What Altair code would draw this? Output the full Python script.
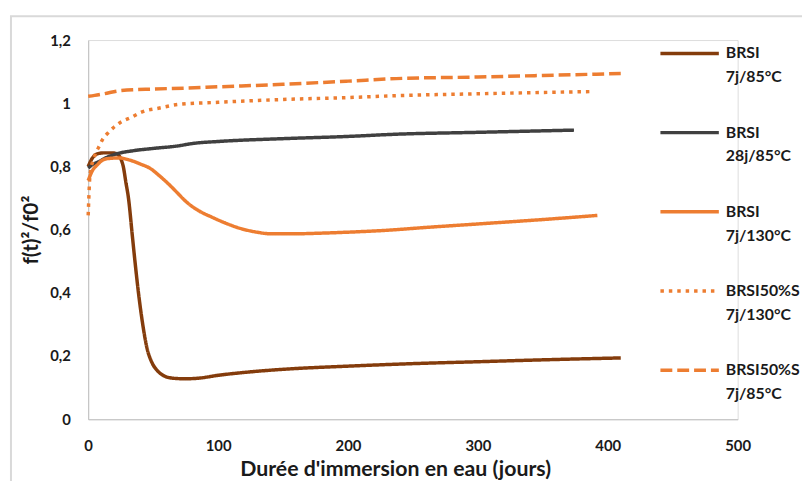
import altair as alt
import pandas as pd

SERIES = ["BRSI 7j/85°C", "BRSI 28j/85°C", "BRSI 7j/130°C",
          "BRSI50%S 7j/130°C", "BRSI50%S 7j/85°C"]
COLORS = ["#843C0C", "#404040", "#ED7D31", "#ED7D31", "#ED7D31"]
DASHES = [[1, 0], [1, 0], [1, 0], [3.5, 5], [12, 5]]

X_TICKS = [0, 100, 200, 300, 400, 500]
Y_TICKS = [0, 0.2, 0.4, 0.6, 0.8, 1.0, 1.2]

s1_days = [0, 3, 7, 12, 18, 22, 25, 27, 29, 31, 34, 36, 39, 42, 45, 49, 53, 58,
           65, 75, 85, 100, 125, 150, 200, 250, 300, 350, 410]
s1_vals = [0.80, 0.825, 0.84, 0.843, 0.843, 0.84, 0.825, 0.80, 0.75, 0.70, 0.58,
           0.50, 0.39, 0.30, 0.23, 0.18, 0.155, 0.138, 0.13, 0.128, 0.13, 0.139,
           0.15, 0.158, 0.168, 0.176, 0.182, 0.188, 0.194]

s2_days = [0, 3, 8, 15, 22, 35, 50, 69, 81, 100, 150, 200, 237, 300, 374]
s2_vals = [0.795, 0.805, 0.815, 0.83, 0.84, 0.85, 0.857, 0.865, 0.873, 0.879,
           0.888, 0.895, 0.902, 0.908, 0.915]

s3_days = [0, 3, 7, 12, 18, 24, 32, 40, 48, 55, 63, 69, 75, 85, 95, 105, 117,
           130, 140, 160, 180, 200, 230, 260, 300, 350, 392]
s3_vals = [0.755, 0.785, 0.805, 0.822, 0.826, 0.827, 0.82, 0.808, 0.793, 0.77,
           0.74, 0.715, 0.69, 0.66, 0.64, 0.622, 0.604, 0.592, 0.587,
           0.587, 0.589, 0.592, 0.598, 0.607, 0.618, 0.632, 0.645]

s4_days = [0, 0.5, 1, 2, 4, 6, 8, 11, 15, 20, 25, 33, 41, 55, 69, 100, 150, 200,
           237, 300, 388]
s4_vals = [0.645, 0.70, 0.75, 0.79, 0.82, 0.845, 0.86, 0.885, 0.905, 0.925, 0.94,
           0.955, 0.972, 0.985, 0.996, 1.003, 1.012, 1.018, 1.024, 1.03, 1.037]

s5_days = [0, 5, 12, 25, 50, 75, 100, 150, 200, 237, 300, 350, 410]
s5_vals = [1.022, 1.025, 1.03, 1.04, 1.045, 1.048, 1.052, 1.06, 1.07, 1.078,
           1.083, 1.088, 1.094]

rows = []
for name, days, vals in zip(SERIES, [s1_days, s2_days, s3_days, s4_days, s5_days],
                            [s1_vals, s2_vals, s3_vals, s4_vals, s5_vals]):
    for d, v in zip(days, vals):
        rows.append({"serie": name, "jours": d, "ratio": v})
df = pd.DataFrame(rows)

FONT = "Lato"
TXT = "#1a1a1a"

legend = alt.Legend(
    orient="none", legendX=576, legendY=-18, title=None,
    symbolType="stroke", symbolSize=3481, symbolStrokeWidth=3.5,
    labelExpr="split(datum.label, ' ')",
    labelFont=FONT, labelFontSize=16, labelFontWeight="bold",
    labelColor=TXT, labelLimit=300, labelOffset=5,
    rowPadding=16, padding=0,
)

lines = alt.Chart(df).mark_line(
    strokeWidth=3.5, interpolate="monotone", strokeCap="butt"
).encode(
    x=alt.X("jours:Q", scale=alt.Scale(domain=[0, 500], nice=False),
            axis=alt.Axis(values=X_TICKS, title="Durée d'immersion en eau (jours)",
                          grid=False, ticks=False, domainColor="#BFBFBF",
                          labelFont=FONT, labelFontSize=15, labelFontWeight="bold",
                          labelColor=TXT, labelPadding=20, labelFlush=False,
                          titleFont=FONT, titleFontSize=21.5, titleFontWeight="bold",
                          titleColor=TXT, titlePadding=5, titleX=310)),
    y=alt.Y("ratio:Q", scale=alt.Scale(domain=[0, 1.2], nice=False),
            axis=alt.Axis(values=Y_TICKS, title="f(t)²/f0²",
                          labelExpr="replace(format(datum.value, '~g'), '.', ',')",
                          grid=False, ticks=False, domainColor="#BFBFBF",
                          labelFont=FONT, labelFontSize=15, labelFontWeight="bold",
                          labelColor=TXT, labelPadding=18,
                          titleFont=FONT, titleFontSize=21, titleFontWeight="bold",
                          titleColor=TXT, titlePadding=8)),
    color=alt.Color("serie:N", scale=alt.Scale(domain=SERIES, range=COLORS),
                    sort=SERIES, legend=legend),
    strokeDash=alt.StrokeDash("serie:N", scale=alt.Scale(domain=SERIES, range=DASHES),
                              sort=SERIES, legend=legend),
)

frame = alt.Chart(pd.DataFrame({"k": [0]})).mark_rect(
    fill=None, stroke="#D9D9D9", strokeWidth=2
).encode(
    x=alt.value(-78), x2=alt.value(760), y=alt.value(-24), y2=alt.value(470)
)

chart = alt.layer(frame, lines).properties(
    width=656, height=383,
    autosize=alt.AutoSizeParams(type="none"),
    padding={"left": 81, "top": 30, "right": 65, "bottom": 60},
).configure_view(stroke=None).configure(
    style={"guide-label": {"lineHeight": 24}}
)

chart.save("out.html", embed_options={"renderer": "svg", "actions": False})
